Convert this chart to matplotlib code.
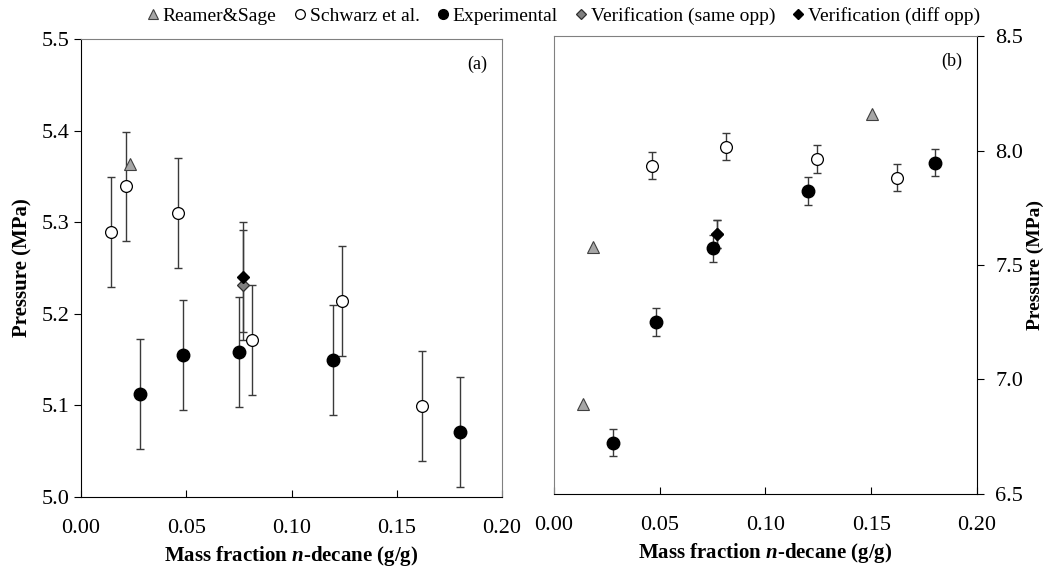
import matplotlib
matplotlib.use('Agg')
import matplotlib.pyplot as plt
from matplotlib.lines import Line2D

plt.rcParams['font.family'] = ['Liberation Serif', 'DejaVu Serif']
plt.rcParams['mathtext.fontset'] = 'custom'
plt.rcParams['mathtext.it'] = 'Liberation Serif:italic:bold'
plt.rcParams['mathtext.rm'] = 'Liberation Serif:bold'

# (a) lower temperature
rs_x_a = [0.0231]
rs_p_a = [5.364]
sch_x_a = [0.0143, 0.0214, 0.0462, 0.0814, 0.1240, 0.1620]
sch_p_a = [5.289, 5.339, 5.310, 5.171, 5.214, 5.099]
exp_x_a = [0.0280, 0.0483, 0.0752, 0.1199, 0.1800]
exp_p_a = [5.112, 5.155, 5.158, 5.150, 5.071]
vs_x_a = [0.0770]
vs_p_a = [5.231]
vd_x_a = [0.0770]
vd_p_a = [5.240]
err_a = 0.06

# (b) higher temperature
rs_x_b = [0.0139, 0.0186, 0.1502]
rs_p_b = [6.893, 7.580, 8.158]
sch_x_b = [0.0462, 0.0812, 0.1242, 0.1620]
sch_p_b = [7.934, 8.017, 7.963, 7.881]
exp_x_b = [0.0279, 0.0481, 0.0752, 0.1203, 0.1800]
exp_p_b = [6.724, 7.251, 7.573, 7.823, 7.947]
vs_x_b = [0.0769]
vs_p_b = [7.635]
vd_x_b = [0.0769]
vd_p_b = [7.635]
err_b = 0.06

ecol = '#3a3a3a'


def draw_panel(ax, d, err):
    rs_x, rs_p, sch_x, sch_p, exp_x, exp_p, vs_x, vs_p, vd_x, vd_p = d
    for xs, ps in [(sch_x, sch_p), (exp_x, exp_p), (vs_x, vs_p), (vd_x, vd_p)]:
        ax.errorbar(xs, ps, yerr=err, fmt='none', ecolor=ecol, elinewidth=1.0,
                    capsize=3, capthick=1.0, zorder=2)
    ax.plot(rs_x, rs_p, '^', ms=8, mfc='#a6a6a6', mec='#404040', mew=0.8, zorder=3)
    ax.plot(sch_x, sch_p, 'o', ms=8.5, mfc='white', mec='black', mew=0.9, zorder=3)
    ax.plot(exp_x, exp_p, 'o', ms=9, mfc='black', mec='black', zorder=3)
    ax.plot(vs_x, vs_p, 'D', ms=6.5, mfc='#808080', mec='#303030', mew=0.9, zorder=4)
    ax.plot(vd_x, vd_p, 'D', ms=6.5, mfc='black', mec='black', zorder=5)
    ax.set_xlim(0, 0.2)
    ax.set_xticks([0, 0.05, 0.10, 0.15, 0.20])
    ax.set_xticklabels(['0.00', '0.05', '0.10', '0.15', '0.20'])
    ax.tick_params(axis='x', direction='in', length=5, labelsize=16, pad=16)
    ax.tick_params(axis='y', direction='out', length=5, labelsize=16)
    ax.set_xlabel('Mass fraction $n$-decane (g/g)', fontsize=15, fontweight='bold', labelpad=4)


fig = plt.figure(figsize=(10.56, 5.68), dpi=100)
ax1 = fig.add_axes([0.0767, 0.125, 0.3987, 0.8063])
ax2 = fig.add_axes([0.5246, 0.1303, 0.4006, 0.8063])

draw_panel(ax1, (rs_x_a, rs_p_a, sch_x_a, sch_p_a, exp_x_a, exp_p_a,
                 vs_x_a, vs_p_a, vd_x_a, vd_p_a), err_a)
ax1.set_ylim(5.0, 5.5)
ax1.set_yticks([5.0, 5.1, 5.2, 5.3, 5.4, 5.5])
ax1.set_ylabel('Pressure (MPa)', fontsize=15, fontweight='bold', labelpad=6)
ax1.spines['top'].set_color('#808080')
ax1.spines['right'].set_color('#808080')
ax1.text(0.965, 0.945, '(a)', transform=ax1.transAxes, ha='right', va='center', fontsize=13)

draw_panel(ax2, (rs_x_b, rs_p_b, sch_x_b, sch_p_b, exp_x_b, exp_p_b,
                 vs_x_b, vs_p_b, vd_x_b, vd_p_b), err_b)
ax2.set_ylim(6.5, 8.5)
ax2.set_yticks([6.5, 7.0, 7.5, 8.0, 8.5])
ax2.yaxis.tick_right()
ax2.yaxis.set_label_position('right')
ax2.tick_params(axis='y', pad=8)
ax2.set_ylabel('Pressure (MPa)', fontsize=14, fontweight='bold', labelpad=3)
ax2.spines['top'].set_color('#808080')
ax2.spines['left'].set_color('#808080')
ax2.text(0.965, 0.945, '(b)', transform=ax2.transAxes, ha='right', va='center', fontsize=13)

handles = [
    Line2D([], [], ls='none', marker='^', ms=7, mfc='#a6a6a6', mec='#404040', mew=0.8),
    Line2D([], [], ls='none', marker='o', ms=7, mfc='white', mec='black', mew=0.9),
    Line2D([], [], ls='none', marker='o', ms=7, mfc='black', mec='black'),
    Line2D([], [], ls='none', marker='D', ms=5.5, mfc='#808080', mec='#303030', mew=0.9),
    Line2D([], [], ls='none', marker='D', ms=5.5, mfc='black', mec='black'),
]
labels = ['Reamer&Sage', 'Schwarz et al.', 'Experimental',
          'Verification (same opp)', 'Verification (diff opp)']
fig.legend(handles, labels, loc='center', bbox_to_anchor=(0.532, 0.972), ncol=5,
           frameon=False, fontsize=14, handletextpad=0.0, columnspacing=0.7,
           handlelength=1.0, borderaxespad=0)

fig.savefig('out.png', dpi=100)
